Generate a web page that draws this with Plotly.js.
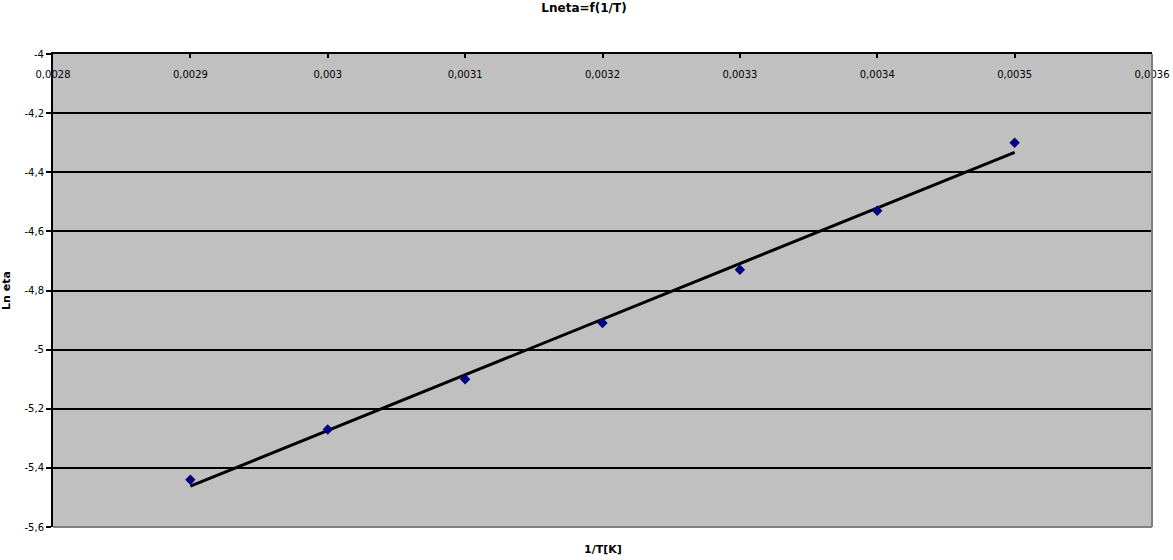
<!DOCTYPE html>
<html>
<head>
<meta charset="utf-8">
<script src="https://cdn.plot.ly/plotly-3.0.1.min.js"></script>
<style>html,body{margin:0;padding:0;background:#fff;}#chart{width:1173px;height:560px;}</style>
</head>
<body>
<div id="chart"></div>
<script>
// Data
const invT = [0.0029, 0.0030, 0.0031, 0.0032, 0.0033, 0.0034, 0.0035];
const lnEta = [-5.44, -5.27, -5.10, -4.91, -4.73, -4.53, -4.30];
const xTicks = [0.0028, 0.0029, 0.0030, 0.0031, 0.0032, 0.0033, 0.0034, 0.0035, 0.0036];
const yTicks = [-5.6, -5.4, -5.2, -5.0, -4.8, -4.6, -4.4, -4.2, -4.0];

// linear trendline (least squares)
const n = invT.length;
const mx = invT.reduce((a,b)=>a+b,0)/n;
const my = lnEta.reduce((a,b)=>a+b,0)/n;
let sxy = 0, sxx = 0;
for (let i=0;i<n;i++){ sxy += (invT[i]-mx)*(lnEta[i]-my); sxx += (invT[i]-mx)**2; }
const slope = sxy/sxx, icpt = my - slope*mx;
const trendX = [Math.min(...invT), Math.max(...invT)];
const trendY = trendX.map(x => icpt + slope*x);

const fmt = v => String(parseFloat(v.toPrecision(6))).replace('.', ',');

const fam = 'DejaVu Sans, Arial, sans-serif';
const font = {family: fam, size: 10, color: '#000'};

const traces = [
  {x: trendX, y: trendY, mode: 'lines', line: {color: '#000', width: 3}, showlegend: false, hoverinfo: 'skip'},
  {x: invT, y: lnEta, mode: 'markers', marker: {symbol: 'diamond', color: '#000080', size: 8}, showlegend: false}
];

const layout = {
  width: 1173, height: 560,
  margin: {l: 53, r: 21, t: 54, b: 33},
  paper_bgcolor: '#ffffff',
  plot_bgcolor: '#c0c0c0',
  font: font,
  title: {text: '<b>Lneta=f(1/T)</b>', font: {family: fam, size: 12, color: '#000'},
          x: 584/1173, xanchor: 'center', xref: 'container', y: 1 - 8/560, yref: 'container', yanchor: 'middle'},
  xaxis: {
    range: [0.0028, 0.0036], side: 'top',
    tickvals: xTicks, ticktext: xTicks.map(fmt),
    ticks: 'inside', ticklen: 4, tickwidth: 2, tickcolor: '#000',
    ticklabelposition: 'inside', ticklabeloverflow: 'allow', ticklabelstandoff: 12,
    showline: true, linecolor: '#000', linewidth: 2,
    showgrid: false, zeroline: false,
    tickfont: {family: fam, size: 10, color: '#000'}
  },
  yaxis: {
    range: [-5.6, -4.0],
    tickvals: yTicks, ticktext: yTicks.map(fmt),
    ticks: 'outside', ticklen: 5, tickwidth: 2, tickcolor: '#000',
    showline: true, linecolor: '#000', linewidth: 2,
    showgrid: true, gridcolor: '#000', gridwidth: 2, zeroline: false,
    tickfont: {family: fam, size: 10, color: '#000'},
    title: {text: '<b>Ln eta</b>', font: {family: fam, size: 11, color: '#000'}, standoff: 12}
  },
  shapes: [
    {type: 'line', xref: 'paper', yref: 'paper', x0: 1, x1: 1, y0: 0, y1: 1, line: {color: '#808080', width: 2}},
    {type: 'line', xref: 'paper', yref: 'paper', x0: 0, x1: 1, y0: 0, y1: 0, line: {color: '#808080', width: 2}}
  ],
  annotations: [
    {text: '<b>1/T[K]</b>', xref: 'paper', yref: 'paper', x: 0.5, y: 0, yshift: -22, yanchor: 'middle',
     showarrow: false, font: {family: fam, size: 11, color: '#000'}}
  ]
};

Plotly.newPlot('chart', traces, layout, {displayModeBar: false, staticPlot: true});
</script>
</body>
</html>
